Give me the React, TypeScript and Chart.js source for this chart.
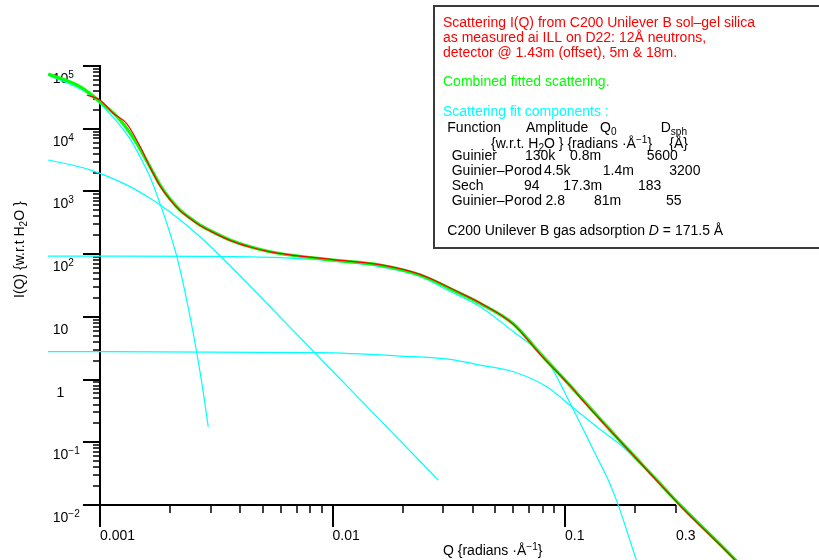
import { useEffect, useRef } from 'react';
import { Chart, registerables } from 'chart.js';

Chart.register(...registerables);

// ---- Data ----
// Measured scattering (red)
const MEASURED_Q = [0.000877, 0.001, 0.00114, 0.0013, 0.00149, 0.00164, 0.00181, 0.002, 0.002208, 0.002438, 0.002692, 0.002972, 0.003623, 0.00442, 0.005385, 0.00656, 0.01, 0.016, 0.0238, 0.0342, 0.0431, 0.06, 0.078, 0.0984, 0.1086, 0.116, 0.161, 0.248, 0.3126, 0.496, 0.625];
const MEASURED_I = [34500, 28700, 17600, 12200, 5160, 2450, 1240, 740, 495, 370, 287, 235, 166, 130, 108.5, 97.5, 82, 68, 47.5, 25.6, 16.7, 7.6, 2.55, 1.03, 0.7, 0.52, 0.137, 0.0245, 0.0098, 0.0018, 0.00075];

// Combined fitted scattering (green)
const FIT_Q = [0.000599, 0.00082, 0.001, 0.00122, 0.00144, 0.00164, 0.001811, 0.002, 0.002208, 0.002438, 0.002692, 0.002972, 0.003623, 0.00442, 0.005385, 0.00656, 0.01005, 0.016, 0.0238, 0.0342, 0.0431, 0.06, 0.078, 0.0984, 0.116, 0.161, 0.248, 0.3126, 0.496, 0.625];
const FIT_I = [74500, 46800, 27000, 13800, 5850, 2480, 1265, 756, 505, 376.6, 291, 237.9, 167.8, 131, 109.2, 96.8, 80.5, 67, 46.4, 25.1, 16.4, 7.68, 2.62, 1.045, 0.532, 0.139, 0.0249, 0.00995, 0.00184, 0.00076];

// Fit components (cyan)
const GUINIER_Q = [0.000598, 0.000743, 0.000906, 0.0011, 0.001346, 0.001486, 0.00164, 0.00181, 0.002, 0.00214, 0.00236, 0.00261, 0.00278, 0.00292];
const GUINIER_I = [71200, 51300, 34500, 17600, 6900, 3580, 1715, 646, 215, 91, 18.5, 2.62, 0.63, 0.177];

const GP1_Q = [0.000598, 0.000743, 0.000906, 0.001, 0.001104, 0.001346, 0.001641, 0.001811, 0.002208, 0.002692, 0.003283, 0.004003, 0.005945, 0.00975, 0.01767, 0.0285];
const GP1_I = [3168, 2685, 2211, 1944, 1678, 1193, 779, 614, 354, 189.4, 94.3, 45.2, 9.96, 1.503, 0.1553, 0.0249];

const SECH_Q = [0.000598, 0.001, 0.003, 0.00595, 0.01, 0.016, 0.0238, 0.031, 0.0431, 0.06, 0.0834, 0.107, 0.1368, 0.1535, 0.1694, 0.1967, 0.206];
const SECH_I = [93, 93, 92, 87.7, 78, 63, 44, 27, 14.5, 5.78, 2.05, 0.368, 0.0587, 0.0249, 0.00995, 0.00184, 0.0011];

const GP2_Q = [0.000598, 0.001, 0.00883, 0.0195, 0.032, 0.0431, 0.06, 0.0834, 0.107, 0.1368, 0.184, 0.224, 0.3126, 0.496, 0.625];
const GP2_I = [2.78, 2.78, 2.68, 2.37, 2.1, 1.7, 1.33, 0.767, 0.368, 0.177, 0.0751, 0.036, 0.0096, 0.0018, 0.00074];

// ---- Axis ticks / labels ----
const X_MAJOR_TICKS = [0.001, 0.01, 0.1];
const X_MINOR_TICKS = [0.002, 0.003, 0.004, 0.005, 0.006, 0.007, 0.008, 0.009, 0.02, 0.03, 0.04, 0.05, 0.06, 0.07, 0.08, 0.09, 0.2, 0.3];
const X_TICK_LABEL_VALUES = [0.001, 0.01, 0.1, 0.3];
const X_TICK_LABELS = ['0.001', '0.01', '0.1', '0.3'];
const Y_MAJOR_TICKS = [1e-2, 1e-1, 1, 10, 1e2, 1e3, 1e4, 1e5];
const Y_TICK_BASE = ['10', '10', '1', '10', '10', '10', '10', '10'];
const Y_TICK_EXP = ['\u22122', '\u22121', '', '', '2', '3', '4', '5'];
const Y_MINOR_MULTIPLIERS = [2, 3, 4, 5, 6, 7, 8, 9];

const AXIS_X_MIN = 0.001;
const AXIS_X_MAX = 0.3;
const AXIS_Y_MIN = 0.01;
const AXIS_Y_MAX = 1e5;

// ---- Layout ----
const W = 819;
const H = 560;
const AX_LEFT = 100;
const AX_RIGHT = 676;
const AX_TOP = 66;
const AX_BOTTOM = 505;
const xDec = (AX_RIGHT - AX_LEFT) / Math.log10(AXIS_X_MAX / AXIS_X_MIN);
const yDec = (AX_BOTTOM - AX_TOP) / Math.log10(AXIS_Y_MAX / AXIS_Y_MIN);
const X_SCALE_MIN = AXIS_X_MIN * Math.pow(10, -AX_LEFT / xDec);
const X_SCALE_MAX = AXIS_X_MIN * Math.pow(10, (W - AX_LEFT) / xDec);
const Y_SCALE_MAX = AXIS_Y_MAX * Math.pow(10, AX_TOP / yDec);
const Y_SCALE_MIN = AXIS_Y_MIN / Math.pow(10, (H - AX_BOTTOM) / yDec);

const FONT = '"Liberation Sans", Arial, Helvetica, sans-serif';
const FS = 14;

type Run = [string, string?];

function drawRuns(ctx: CanvasRenderingContext2D, x: number, y: number, runs: Run[], size = FS): number {
  let cx = x;
  for (const [t, mode] of runs) {
    let fs = size;
    let dy = 0;
    let style = '';
    if (mode === 'sub') { fs = size * 0.72; dy = 3; }
    if (mode === 'sup') { fs = size * 0.72; dy = -5; }
    if (mode === 'i') style = 'italic ';
    ctx.font = `${style}${fs}px ${FONT}`;
    ctx.fillText(t, cx, y + dy);
    cx += ctx.measureText(t).width;
  }
  return cx;
}

const axesPlugin = {
  id: 'sasAxes',
  beforeDatasetsDraw(chart: any) {
    const ctx: CanvasRenderingContext2D = chart.ctx;
    const xs = chart.scales.x;
    const ys = chart.scales.y;
    const x0 = xs.getPixelForValue(AXIS_X_MIN);
    const x1 = xs.getPixelForValue(AXIS_X_MAX);
    const y0 = ys.getPixelForValue(AXIS_Y_MIN);
    const y1 = ys.getPixelForValue(AXIS_Y_MAX);
    ctx.save();
    ctx.strokeStyle = '#000';
    ctx.lineCap = 'butt';
    // axis lines
    ctx.lineWidth = 2;
    ctx.beginPath();
    ctx.moveTo(x0, y1 - 1);
    ctx.lineTo(x0, y0);
    ctx.moveTo(x0, y0);
    ctx.lineTo(x1, y0);
    ctx.stroke();
    // y major ticks
    for (const v of Y_MAJOR_TICKS) {
      const py = Math.round(ys.getPixelForValue(v));
      ctx.lineWidth = 2;
      ctx.beginPath();
      ctx.moveTo(x0 - 17, py);
      ctx.lineTo(x0, py);
      ctx.stroke();
    }
    // y minor ticks
    ctx.lineWidth = 1.5;
    for (let i = 0; i < Y_MAJOR_TICKS.length - 1; i++) {
      for (const m of Y_MINOR_MULTIPLIERS) {
        const py = Math.round(ys.getPixelForValue(Y_MAJOR_TICKS[i] * m));
        ctx.beginPath();
        ctx.moveTo(x0 - 7, py);
        ctx.lineTo(x0, py);
        ctx.stroke();
      }
    }
    // x major ticks
    ctx.lineWidth = 2;
    for (const v of X_MAJOR_TICKS) {
      const px = Math.round(xs.getPixelForValue(v));
      ctx.beginPath();
      ctx.moveTo(px, y0);
      ctx.lineTo(px, y0 + 22);
      ctx.stroke();
    }
    ctx.lineWidth = 1.5;
    for (const v of X_MINOR_TICKS) {
      const px = Math.round(xs.getPixelForValue(v));
      ctx.beginPath();
      ctx.moveTo(px, y0);
      ctx.lineTo(px, y0 + 8);
      ctx.stroke();
    }
    // tick labels
    ctx.fillStyle = '#000';
    ctx.textBaseline = 'alphabetic';
    ctx.textAlign = 'left';
    X_TICK_LABEL_VALUES.forEach((v, i) => {
      const px = xs.getPixelForValue(v);
      ctx.font = `${FS}px ${FONT}`;
      ctx.fillText(X_TICK_LABELS[i], px, y0 + 35);
    });
    Y_MAJOR_TICKS.forEach((v, i) => {
      const py = ys.getPixelForValue(v);
      ctx.font = `${FS}px ${FONT}`;
      const w = ctx.measureText(Y_TICK_BASE[i]).width;
      const runs: Run[] = [[Y_TICK_BASE[i]]];
      if (Y_TICK_EXP[i]) runs.push([Y_TICK_EXP[i], 'sup']);
      drawRuns(ctx, 60.5 - w / 2, py + 17, runs);
    });
    // axis titles
    drawRuns(ctx, 443, 555, [['Q {radians \u00b7\u00c5'], ['\u22121', 'sup'], ['}']]);
    ctx.save();
    ctx.translate(24, 298);
    ctx.rotate(-Math.PI / 2);
    drawRuns(ctx, 0, 0, [['I(Q) {w.r.t H'], ['2', 'sub'], ['O }']]);
    ctx.restore();
    ctx.restore();
  },
  afterDraw(chart: any) {
    const ctx: CanvasRenderingContext2D = chart.ctx;
    ctx.save();
    ctx.fillStyle = '#fff';
    ctx.fillRect(434, 6, 400, 242);
    ctx.strokeStyle = '#3a3a3a';
    ctx.lineWidth = 2;
    ctx.strokeRect(434, 6, 400, 242);
    ctx.textBaseline = 'alphabetic';
    ctx.textAlign = 'left';
    ctx.fillStyle = '#ff0000';
    drawRuns(ctx, 443, 26.7, [['Scattering I(Q) from C200 Unilever B sol\u2013gel silica']]);
    drawRuns(ctx, 443, 41.5, [['as measured ai ILL on D22: 12\u00c5 neutrons,']]);
    drawRuns(ctx, 443, 56.7, [['detector @ 1.43m (offset), 5m & 18m.']]);
    ctx.fillStyle = '#00ff00';
    drawRuns(ctx, 443, 86, [['Combined fitted scattering.']]);
    ctx.fillStyle = '#00ffff';
    drawRuns(ctx, 443, 115.7, [['Scattering fit components :']]);
    ctx.fillStyle = '#000';
    drawRuns(ctx, 447.3, 131.5, [['Function']]);
    drawRuns(ctx, 526, 131.5, [['Amplitude']]);
    drawRuns(ctx, 600, 131.5, [['Q'], ['0', 'sub']]);
    drawRuns(ctx, 660.7, 131.5, [['D'], ['sph', 'sub']]);
    drawRuns(ctx, 491, 147.5, [['{w.r.t. H'], ['2', 'sub'], ['O } {radians \u00b7\u00c5'], ['\u22121', 'sup'], ['}']]);
    drawRuns(ctx, 669.3, 147.5, [['{\u00c5}']]);
    const rows: [string, number, string, number, string, number, string, number][] = [
      ['Guinier', 451.7, '130k', 525, '0.8m', 570, '5600', 646.7],
      ['Guinier\u2013Porod', 451.7, '4.5k', 544, '1.4m', 602.7, '3200', 669.3],
      ['Sech', 451.7, '94', 524, '17.3m', 563.3, '183', 638],
      ['Guinier\u2013Porod', 451.7, '2.8', 545.5, '81m', 594, '55', 666],
    ];
    rows.forEach((r, i) => {
      const by = 160 + i * 15;
      drawRuns(ctx, r[1], by, [[r[0]]]);
      drawRuns(ctx, r[3], by, [[r[2]]]);
      drawRuns(ctx, r[5], by, [[r[4]]]);
      drawRuns(ctx, r[7], by, [[r[6]]]);
    });
    drawRuns(ctx, 447.3, 235, [['C200 Unilever B gas adsorption '], ['D', 'i'], [' = 171.5 \u00c5']]);
    ctx.restore();
  },
};

function pts(q: number[], v: number[]) {
  return q.map((x, i) => ({ x, y: v[i] }));
}

export default function App() {
  const ref = useRef<HTMLCanvasElement | null>(null);
  useEffect(() => {
    document.body.style.margin = '0';
    const canvas = ref.current;
    if (!canvas) return;
    const line = (label: string, q: number[], v: number[], color: string, width: number) => ({
      label,
      data: pts(q, v),
      borderColor: color,
      backgroundColor: color,
      borderWidth: width,
      pointRadius: 0,
      fill: false,
      clip: false as any,
      cubicInterpolationMode: 'monotone' as const,
    });
    const chart = new Chart(canvas, {
      type: 'line',
      data: {
        datasets: [
          line('Measured I(Q)', MEASURED_Q, MEASURED_I, '#ff0000', 1.2),
          line('Combined fit', FIT_Q, FIT_I, '#00ff00', 3.2),
          line('Guinier', GUINIER_Q, GUINIER_I, '#00ffff', 1.2),
          line('Guinier–Porod 1', GP1_Q, GP1_I, '#00ffff', 1.2),
          line('Sech', SECH_Q, SECH_I, '#00ffff', 1.2),
          line('Guinier–Porod 2', GP2_Q, GP2_I, '#00ffff', 1.2),
        ],
      },
      options: {
        responsive: false,
        animation: false,
        devicePixelRatio: 1,
        events: [],
        layout: { padding: 0 },
        plugins: { legend: { display: false }, tooltip: { enabled: false }, title: { display: false } },
        elements: { point: { radius: 0 }, line: { capBezierPoints: false, borderJoinStyle: 'round' } },
        scales: {
          x: { type: 'logarithmic', min: X_SCALE_MIN, max: X_SCALE_MAX, display: false },
          y: { type: 'logarithmic', min: Y_SCALE_MIN, max: Y_SCALE_MAX, display: false },
        },
      },
      plugins: [axesPlugin],
    } as any);
    return () => chart.destroy();
  }, []);
  return (
    <div style={{ width: W, height: H, background: '#fff' }}>
      <canvas ref={ref} width={W} height={H} style={{ display: 'block' }} />
    </div>
  );
}
